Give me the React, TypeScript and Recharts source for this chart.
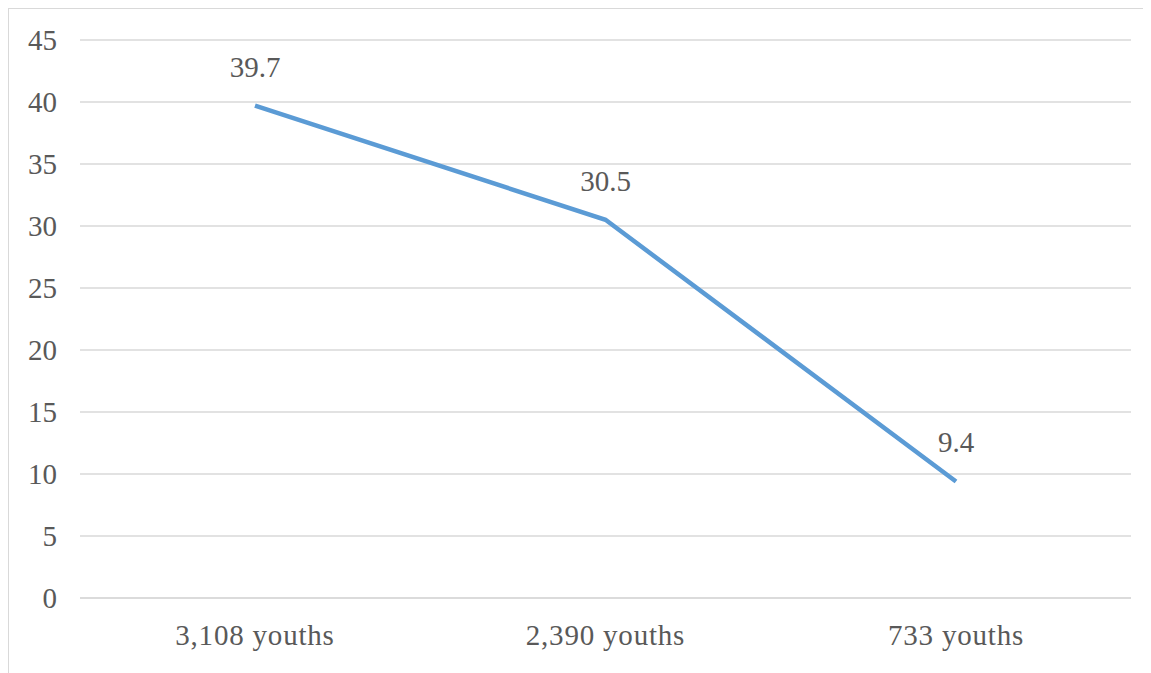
import { LineChart, Line, XAxis, YAxis, CartesianGrid, LabelList } from "recharts"

const categories = ["3,108 youths", "2,390 youths", "733 youths"]
const values = [39.7, 30.5, 9.4]
const yTicks = [0, 5, 10, 15, 20, 25, 30, 35, 40, 45]

const data = categories.map((name, i) => ({ name, value: values[i] }))

const font = "Liberation Serif, Times New Roman, serif"
const textColor = "#595959"

export default function App() {
  return (
    <div
      style={{
        width: 1142,
        height: 664,
        borderTop: "1px solid #d9d9d9",
        borderLeft: "1px solid #d9d9d9",
        background: "#fff",
        fontFamily: font,
      }}
    >
      <LineChart
        width={1142}
        height={664}
        data={data}
        margin={{ top: 31, right: 20, left: 11, bottom: 35 }}
      >
        <CartesianGrid vertical={false} stroke="#d9d9d9" strokeWidth={1.5} />
        <XAxis
          dataKey="name"
          padding={{ left: 175, right: 175 }}
          axisLine={{ stroke: "#d9d9d9", strokeWidth: 1.5 }}
          tickLine={false}
          tickSize={0}
          tickMargin={26}
          height={40}
          tick={{ fill: textColor, fontSize: 29, fontFamily: font, letterSpacing: 0.8 }}
        />
        <YAxis
          domain={[0, 45]}
          ticks={yTicks}
          axisLine={false}
          tickLine={false}
          tickSize={0}
          tickMargin={23}
          width={60}
          tick={{ fill: textColor, fontSize: 29, fontFamily: font }}
        />
        <Line
          type="linear"
          dataKey="value"
          stroke="#5b9bd5"
          strokeWidth={4.5}
          dot={false}
          activeDot={false}
          isAnimationActive={false}
        >
          <LabelList
            dataKey="value"
            position="top"
            offset={29}
            fill={textColor}
            fontSize={29}
            fontFamily={font}
          />
        </Line>
      </LineChart>
    </div>
  )
}
